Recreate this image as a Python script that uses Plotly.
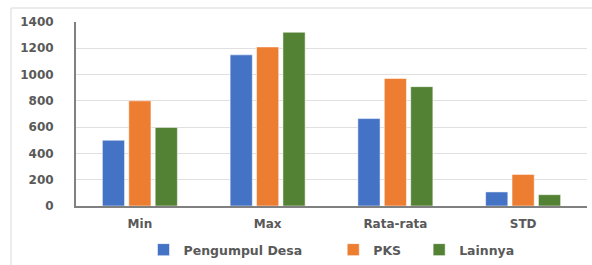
import plotly.graph_objects as go

categories = ["Min", "Max", "Rata-rata", "STD"]
pengumpul_desa = [500, 1150, 665, 107]
pks = [800, 1210, 970, 240]
lainnya = [598, 1322, 908, 86]
y_ticks = [0, 200, 400, 600, 800, 1000, 1200, 1400]
series_names = ["Pengumpul Desa", "PKS", "Lainnya"]
series_colors = ["#4472C4", "#ED7D31", "#548235"]
legend_pad = [6, 3, 0]  # trailing non-breaking spaces to widen legend gaps

fig = go.Figure()
for name, vals, color, pad in zip(series_names, [pengumpul_desa, pks, lainnya], series_colors, legend_pad):
    fig.add_trace(go.Bar(
        x=categories, y=vals, name=name + "\u00a0" * pad,
        marker=dict(color=color, line=dict(color="rgba(255,255,255,0.5)", width=1)),
    ))

W, H = 592, 265
L, R, T, B = 76, 5, 22, 59
pw, ph = W - L - R, H - T - B

def px(x):
    return (x - L) / pw

def py(y):
    return (H - B - y) / ph

FONT = "DejaVu Sans"
tick_font = dict(family=FONT, size=12, color="#595959", weight="bold")

fig.update_layout(
    width=W, height=H,
    margin=dict(l=L, r=R, t=T, b=B, autoexpand=False),
    paper_bgcolor="white", plot_bgcolor="white",
    barmode="group", bargap=0.38, bargroupgap=0.16,
    font=dict(family=FONT, size=12, color="#595959"),
    showlegend=True,
    legend=dict(orientation="h", x=0.5, xanchor="center",
                yref="container", y=1 - 250 / H, yanchor="middle",
                font=dict(family=FONT, size=12.5, color="#595959", weight="bold"),
                itemwidth=30, traceorder="normal"),
    xaxis=dict(showline=True, linecolor="#808080", linewidth=2, ticks="",
               tickfont=tick_font, ticklabelstandoff=6, showgrid=False),
    yaxis=dict(range=[0, 1400], tickvals=y_ticks, showline=True, linecolor="#808080", linewidth=2,
               gridcolor="#E0E0E0", gridwidth=1, ticks="", ticklabelstandoff=18,
               tickfont=tick_font, zeroline=False),
    shapes=[dict(type="rect", xref="paper", yref="paper",
                 x0=px(11), x1=px(600), y0=py(290), y1=py(8),
                 line=dict(color="#D9D9D9", width=1), fillcolor="rgba(0,0,0,0)", layer="below")],
)

fig.write_html("out.html", config={"displayModeBar": False},
               post_script="document.body.style.margin='0px';")
